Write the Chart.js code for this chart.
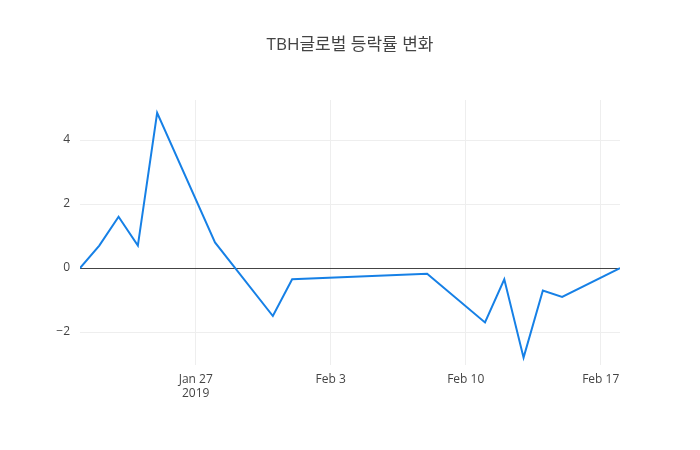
<!DOCTYPE html>
<html>
<head>
<meta charset="utf-8">
<script src="https://cdn.jsdelivr.net/npm/chart.js@4/dist/chart.umd.min.js"></script>
<style>
  body { margin: 0; background: #fff; }
  #wrap { width: 700px; height: 450px; }
</style>
</head>
<body>
<div id="wrap"><canvas id="c"></canvas></div>
<script>
// day offsets from 2019-01-21
const days = [0, 1, 2, 3, 4, 7, 10, 11, 18, 21, 22, 23, 24, 25, 28];
const values = [0, 0.7, 1.6, 0.7, 4.85, 0.8, -1.5, -0.35, -0.18, -1.7, -0.35, -2.8, -0.7, -0.9, 0];
const xTickDays = [6, 13, 20, 27];
const xTickLabels = [['Jan 27', '2019'], 'Feb 3', 'Feb 10', 'Feb 17'];
const yTicks = [-2, 0, 2, 4];
const titleText = 'TBH글로벌 등락률 변화';

const font = { family: '"Open Sans", sans-serif', size: 12 };

// title centred on the whole canvas, like the original
const pageTitle = {
  id: 'pageTitle',
  afterDraw(chart) {
    const ctx = chart.ctx;
    ctx.save();
    ctx.font = '17px "Open Sans", "Noto Sans CJK KR", sans-serif';
    ctx.fillStyle = '#444';
    ctx.textAlign = 'center';
    ctx.textBaseline = 'middle';
    ctx.fillText(titleText, chart.width / 2, 45);
    ctx.restore();
  }
};

new Chart(document.getElementById('c'), {
  type: 'line',
  data: {
    datasets: [{
      data: days.map((d, i) => ({ x: d, y: values[i] })),
      borderColor: 'rgb(22,128,230)',
      borderWidth: 2,
      pointRadius: 0,
      tension: 0,
      fill: false
    }]
  },
  options: {
    responsive: true,
    maintainAspectRatio: false,
    animation: false,
    layout: { padding: { left: 0, right: 80, top: 100, bottom: 0 } },
    scales: {
      x: {
        type: 'linear', min: 0, max: 28,
        afterBuildTicks: s => { s.ticks = xTickDays.map(v => ({ value: v })); },
        afterFit: s => { s.height = 85; },
        ticks: {
          color: '#444', font, padding: 7,
          callback: v => xTickLabels[xTickDays.indexOf(v)],
          maxRotation: 0, autoSkip: false
        },
        grid: { color: '#eee', drawTicks: false },
        border: { display: false }
      },
      y: {
        min: -3.03, max: 5.25,
        afterBuildTicks: s => { s.ticks = yTicks.map(v => ({ value: v })); },
        afterFit: s => { s.width = 80; },
        ticks: { color: '#444', font, padding: 10, callback: v => String(v).replace('-', '\u2212') },
        grid: {
          drawTicks: false,
          color: c => c.tick && c.tick.value === 0 ? '#444' : '#eee',
          lineWidth: 1
        },
        border: { display: false }
      }
    },
    plugins: {
      legend: { display: false },
      tooltip: { enabled: false },
      title: { display: false }
    }
  },
  plugins: [pageTitle]
});
</script>
</body>
</html>
